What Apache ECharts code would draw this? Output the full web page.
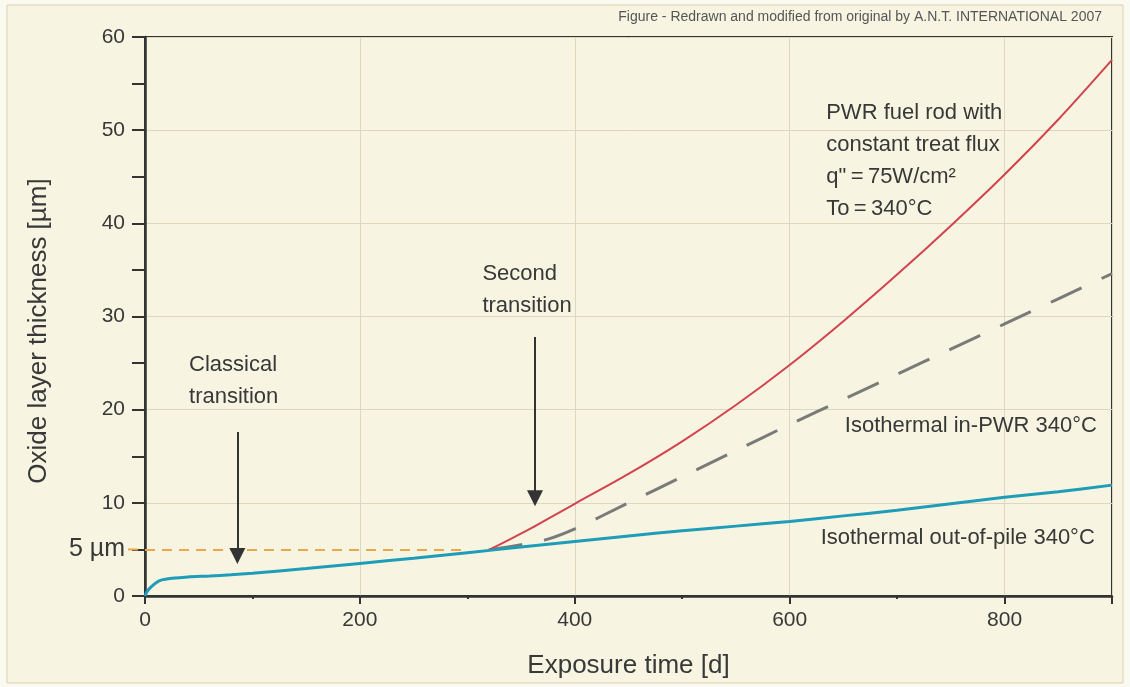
<!DOCTYPE html>
<html>
<head>
<meta charset="utf-8">
<script src="https://cdn.jsdelivr.net/npm/echarts@6/dist/echarts.min.js"></script>
<style>
html,body{margin:0;padding:0;background:#fbfaf1;}
#c{width:1130px;height:687px;}
</style>
</head>
<body>
<div id="c"></div>
<script>
// ---- data ----
const outOfPileDays   = [0, 2, 5, 10, 15, 25, 40, 60, 80, 100, 150, 200, 250, 300, 350, 400, 450, 500, 550, 600, 650, 700, 750, 800, 850, 900];
const outOfPileValues = [0, 0.5, 0.9, 1.4, 1.7, 1.9, 2.05, 2.15, 2.28, 2.45, 2.95, 3.5, 4.05, 4.65, 5.25, 5.85, 6.45, 7.0, 7.5, 8.0, 8.6, 9.2, 9.9, 10.6, 11.2, 11.9];

const fuelRodDays   = [320, 340, 360, 380, 400, 450, 500, 550, 600, 650, 700, 750, 800, 850, 900];
const fuelRodValues = [4.95, 6.1, 7.3, 8.6, 9.9, 13.1, 16.6, 20.5, 24.8, 29.5, 34.5, 39.75, 45.25, 51.15, 57.55];

const inPwrDays   = [320, 350, 375, 400, 450, 500, 550, 600, 650, 700, 750, 800, 850, 900];
const inPwrValues = [4.95, 5.5, 6.1, 7.2, 10.0, 12.8, 15.6, 18.4, 21.1, 23.8, 26.5, 29.2, 31.9, 34.6];

const thresholdValue = 5;
const thresholdEndDay = 300;

const classicalArrow = {day: 86, from: 17.6, to: 4.3};
const secondArrow    = {day: 363, from: 27.8, to: 10.5};

const xMin = 0, xMax = 900, xStep = 200;
const yMin = 0, yMax = 60, yStep = 5;

const textColor = '#383838';
const FONT = '"Liberation Sans", Arial, sans-serif';

function pairs(xs, ys){ return xs.map((x,i)=>[x, ys[i]]); }

const chart = echarts.init(document.getElementById('c'), null, {renderer:'canvas'});
const baseGraphic = [
  {id:'frame', type:'rect', z:-100, silent:true, shape:{x:7, y:5, width:1116, height:678},
   style:{fill:'#f7f5e2', stroke:'#d9d1b2', lineWidth:1}},
  {id:'credit', type:'text', right: 28, top: 10, silent:true,
   style:{text:'Figure - Redrawn and modified from original by A.N.T. INTERNATIONAL 2007',
          font:'14px "Liberation Sans", Arial, sans-serif', fill:'#555'}},
  {id:'ytitle', type:'text', silent:true, x: 39, y: 331, rotation: Math.PI/2,
   style:{text:'Oxide layer thickness [µm]', font:'26px "Liberation Sans", Arial, sans-serif',
          fill:textColor, align:'center', verticalAlign:'middle'}}
];
chart.setOption({
  animation: false,
  backgroundColor: 'transparent',
  textStyle: {fontFamily: FONT},
  graphic: baseGraphic,
  grid: {left:145, right:18, top:37, bottom:91, show:true, borderColor:'#333', borderWidth:2, backgroundColor:'transparent'},
  xAxis: {
    type:'value', min:xMin, max:xMax, interval:xStep,
    name:'Exposure time [d]', nameLocation:'middle', nameGap:57,
    nameTextStyle:{fontSize:26, color:textColor, fontFamily:FONT},
    axisLine:{show:true, onZero:false, lineStyle:{color:'#333', width:2.5}},
    axisTick:{show:true, length:8, lineStyle:{color:'#333', width:2}},
    minorTick:{show:true, splitNumber:2, length:3, lineStyle:{color:'#333', width:2}},
    axisLabel:{fontSize:21, color:textColor, margin:14, showMaxLabel:false,
      formatter: v => (v % xStep === 0 ? String(v) : '')},
    splitLine:{show:true, lineStyle:{color:'#dcd7bf', width:1}}
  },
  yAxis: {
    type:'value', min:yMin, max:yMax, interval:yStep,
    axisLine:{show:true, onZero:false, lineStyle:{color:'#333', width:2.5}},
    axisTick:{show:true, length:13, lineStyle:{color:'#333', width:2}},
    axisLabel:{fontSize:21, color:textColor, margin:20,
      formatter: v => (v % 10 === 0 ? String(v) : (v === thresholdValue ? '{big|5 µm}' : '')),
      rich:{big:{fontSize:25, color:textColor, fontFamily:FONT}}},
    splitLine:{show:true, lineStyle:{color:['#dcd7bf','rgba(0,0,0,0)'], width:1}}
  },
  series: [
    {
      name:'threshold', type:'line', data:[], silent:true,
      markLine:{
        silent:true, symbol:['none','none'], label:{show:false},
        lineStyle:{color:'#e9a84a', width:2, type:[10,7]},
        data:[[{coord:[xMin, thresholdValue]}, {coord:[thresholdEndDay, thresholdValue]}]]
      }
    },
    {
      name:'Isothermal in-PWR 340°C', type:'line', data:pairs(inPwrDays, inPwrValues),
      smooth:0.3, showSymbol:false, z:3,
      lineStyle:{color:'#7a7a78', width:3, type:[34,22]}
    },
    {
      name:'PWR fuel rod', type:'line', data:pairs(fuelRodDays, fuelRodValues),
      smooth:0.3, showSymbol:false, z:4,
      lineStyle:{color:'#d2434f', width:2}
    },
    {
      name:'Isothermal out-of-pile 340°C', type:'line', data:pairs(outOfPileDays, outOfPileValues),
      smooth:0.3, showSymbol:false, z:5,
      lineStyle:{color:'#1f9cb8', width:3}
    },
    {
      name:'annotations', type:'line', data:[], silent:true,
      markLine:{
        silent:true, symbol:['none','triangle'], symbolSize:16, label:{show:false},
        lineStyle:{color:'#333', width:2, type:'solid'},
        data:[
          [{coord:[classicalArrow.day, classicalArrow.from]}, {coord:[classicalArrow.day, classicalArrow.to]}],
          [{coord:[secondArrow.day, secondArrow.from]}, {coord:[secondArrow.day, secondArrow.to]}]
        ]
      },
      markPoint:{
        silent:true, symbol:'circle', symbolSize:0,
        label:{show:true, color:textColor, fontSize:22, fontFamily:FONT, lineHeight:32},
        data:[
          {coord:[41, 23.1], label:{formatter:'Classical\ntransition', position:'inside', align:'left', verticalAlign:'middle'}},
          {coord:[314, 32.9], label:{formatter:'Second\ntransition', position:'inside', align:'left', verticalAlign:'middle'}},
          {coord:[634, 46.7], label:{formatter:'PWR fuel rod with\nconstant treat flux\nq"\u2009=\u200975W/cm²\nTo\u2009=\u2009340°C', position:'inside', align:'left', verticalAlign:'middle', lineHeight:31.7}},
          {coord:[886, 18.25], label:{formatter:'Isothermal in-PWR 340°C', position:'inside', align:'right', verticalAlign:'middle'}},
          {coord:[884, 6.2], label:{formatter:'Isothermal out-of-pile 340°C', position:'inside', align:'right', verticalAlign:'middle'}}
        ]
      }
    }
  ]
});
// extend the 5 µm dashed guide slightly left of the axis, toward its label
const p0 = chart.convertToPixel({gridIndex:0}, [xMin, thresholdValue]);
chart.setOption({graphic: baseGraphic.concat([
  {id:'guideExt', type:'line', silent:true, z:10,
   shape:{x1:p0[0]-17, y1:p0[1], x2:p0[0], y2:p0[1]},
   style:{stroke:'#e9a84a', lineWidth:2, lineDash:[10,7]}}
])});
</script>
</body>
</html>
